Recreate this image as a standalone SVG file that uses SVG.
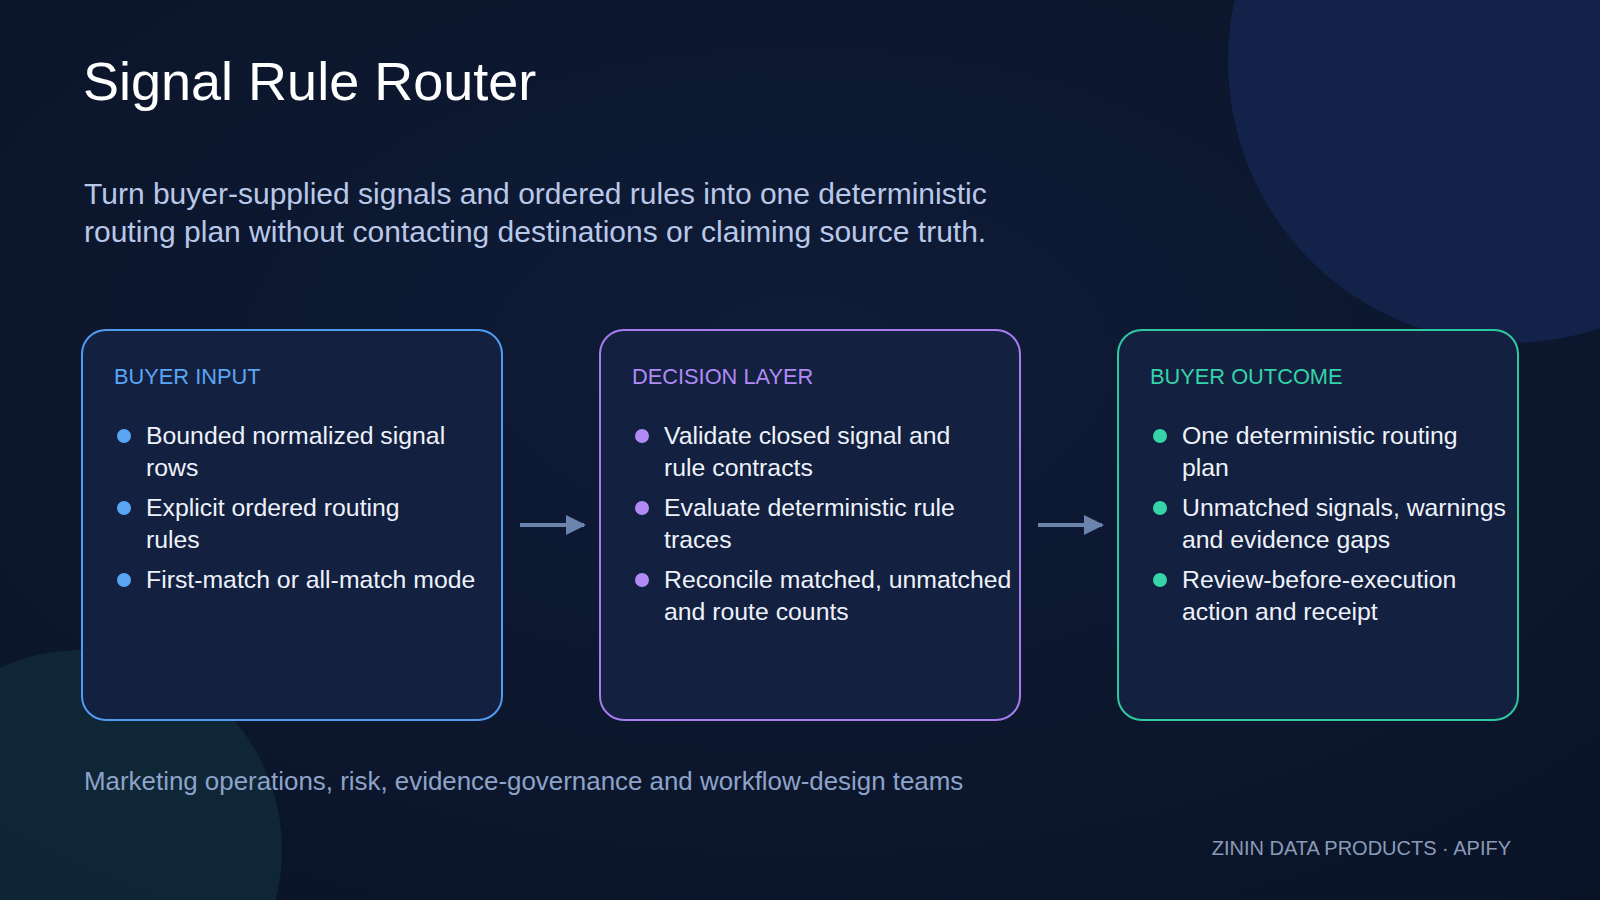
<svg xmlns="http://www.w3.org/2000/svg" width="1600" height="900" viewBox="0 0 1600 900">
<defs>
<radialGradient id="bg" cx="0.5" cy="0.4" r="0.8"><stop offset="0" stop-color="#0f1c38"/><stop offset="1" stop-color="#0a1326"/></radialGradient>
<marker id="ah" viewBox="0 0 10 10" refX="9" refY="5" markerWidth="5" markerHeight="5" orient="auto"><path d="M0 0L10 5L0 10z" fill="#6b84ad"/></marker>
</defs>
<style>
text{font-family:"Liberation Sans",Arial,sans-serif}
.box{fill:#13203f;stroke-width:2}
.hd{font-size:21.8px}
.it{font-size:24.8px;fill:#eef2fb}
</style>
<rect width="1600" height="900" fill="url(#bg)"/>
<circle cx="1510" cy="61" r="282" fill="#13244d" opacity="0.9"/>
<circle cx="82" cy="850" r="200" fill="#0f2a3a" opacity="0.8"/>
<text x="83" y="100" font-size="54" fill="#ffffff">Signal Rule Router</text>
<text font-size="30" fill="#b9c8e8"><tspan x="84" y="204">Turn buyer-supplied signals and ordered rules into one deterministic</tspan><tspan x="84" y="242">routing plan without contacting destinations or claiming source truth.</tspan></text>
<g id="buyer-input">
<rect class="box" x="82" y="330" width="420" height="390" rx="24" stroke="#4f9cf0"/>
<text class="hd" x="114" y="384" fill="#5aa6f5">BUYER INPUT</text>
<g fill="#5aa6f5"><circle cx="124" cy="436" r="7"/><circle cx="124" cy="508" r="7"/><circle cx="124" cy="580" r="7"/></g>
<text class="it"><tspan x="146" y="444">Bounded normalized signal</tspan><tspan x="146" y="476">rows</tspan><tspan x="146" y="516">Explicit ordered routing</tspan><tspan x="146" y="548">rules</tspan><tspan x="146" y="588">First-match or all-match mode</tspan></text>
</g>
<g id="decision-layer">
<rect class="box" x="600" y="330" width="420" height="390" rx="24" stroke="#a77cf0"/>
<text class="hd" x="632" y="384" fill="#b08af5">DECISION LAYER</text>
<g fill="#b08af5"><circle cx="642" cy="436" r="7"/><circle cx="642" cy="508" r="7"/><circle cx="642" cy="580" r="7"/></g>
<text class="it"><tspan x="664" y="444">Validate closed signal and</tspan><tspan x="664" y="476">rule contracts</tspan><tspan x="664" y="516">Evaluate deterministic rule</tspan><tspan x="664" y="548">traces</tspan><tspan x="664" y="588">Reconcile matched, unmatched</tspan><tspan x="664" y="620">and route counts</tspan></text>
</g>
<g id="buyer-outcome">
<rect class="box" x="1118" y="330" width="400" height="390" rx="24" stroke="#2fc9a0"/>
<text class="hd" x="1150" y="384" fill="#34d3a8">BUYER OUTCOME</text>
<g fill="#34d3a8"><circle cx="1160" cy="436" r="7"/><circle cx="1160" cy="508" r="7"/><circle cx="1160" cy="580" r="7"/></g>
<text class="it"><tspan x="1182" y="444">One deterministic routing</tspan><tspan x="1182" y="476">plan</tspan><tspan x="1182" y="516">Unmatched signals, warnings</tspan><tspan x="1182" y="548">and evidence gaps</tspan><tspan x="1182" y="588">Review-before-execution</tspan><tspan x="1182" y="620">action and receipt</tspan></text>
</g>
<g id="connectors" stroke="#6b84ad" stroke-width="4" fill="none" marker-end="url(#ah)">
<line x1="520" y1="525" x2="584" y2="525"/>
<line x1="1038" y1="525" x2="1102" y2="525"/>
</g>
<text x="84" y="790" font-size="25.9" fill="#8ea3c8">Marketing operations, risk, evidence-governance and workflow-design teams</text>
<text x="1511" y="855" font-size="20" fill="#8a9bb8" text-anchor="end">ZININ DATA PRODUCTS · APIFY</text>
</svg>
